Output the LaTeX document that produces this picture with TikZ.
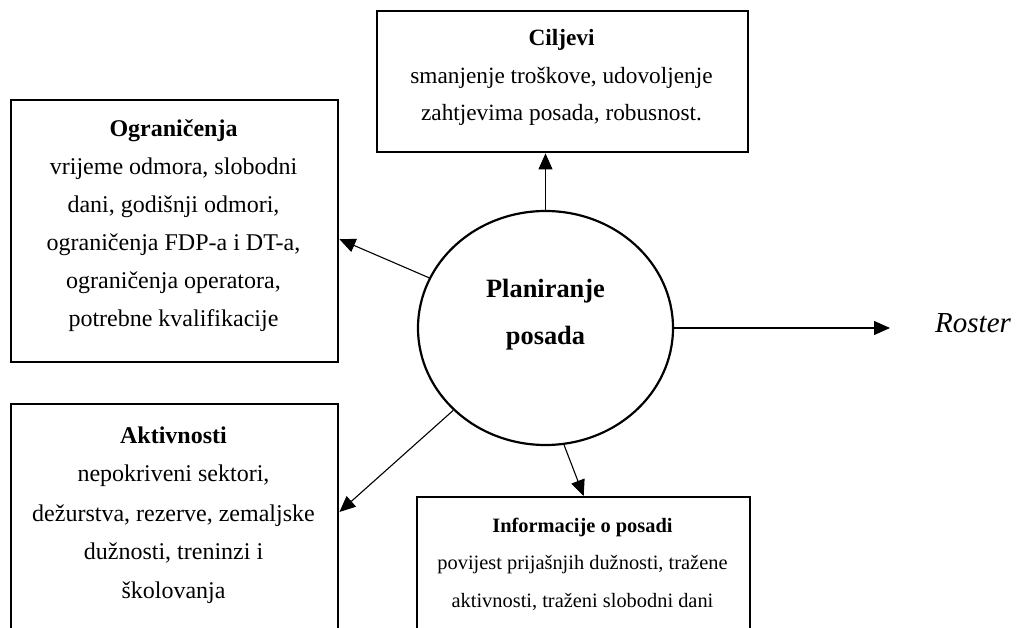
\documentclass[tikz,border=0pt]{standalone}
\usepackage{fontspec}
\setmainfont{Liberation Serif}
\usetikzlibrary{arrows.meta,shapes.geometric,calc}
\begin{document}
\begin{tikzpicture}[x=1pt,y=-1pt,
  box/.style={draw, line width=2.4pt, rectangle, inner sep=0pt, anchor=north west},
  boxtext/.style={inner sep=0pt, anchor=base, font=\fontsize{24}{38}\selectfont},
  circ/.style={draw, ellipse, line width=2.2pt, inner sep=0pt},
  arr/.style={line width=1.1pt, -{Triangle[length=16pt,width=14pt]}}]
\useasboundingbox (0,0) rectangle (1021,628);
\clip (0,0) rectangle (1021,628);

% boxes
\node[box, minimum width=371pt, minimum height=141pt] (cil) at (376,10) {};
\node[box, minimum width=327pt, minimum height=262pt] (ogr) at (10,99) {};
\node[box, minimum width=327pt, minimum height=300pt] (akt) at (10,403) {};
\node[box, minimum width=333pt, minimum height=200pt] (inf) at (416,496) {};

% box texts
\node[boxtext, font=\fontsize{23.3}{37.5}\selectfont] (ciltext) at (561.5,46) {\parbox[t]{460pt}{\centering\textbf{Ciljevi}\\smanjenje troškove, udovoljenje\\zahtjevima posada, robusnost.}};
\node[boxtext] (ogrtext) at (173.5,137) {\parbox[t]{400pt}{\centering\textbf{Ograničenja}\\vrijeme odmora, slobodni\\dani, godišnji odmori,\\ograničenja FDP-a i DT-a,\\ograničenja operatora,\\potrebne kvalifikacije}};
\node[boxtext, font=\fontsize{24}{39}\selectfont] (akttext) at (173.5,443) {\parbox[t]{400pt}{\centering\textbf{Aktivnosti}\\nepokriveni sektori,\\dežurstva, rezerve, zemaljske\\dužnosti, treninzi i\\školovanja}};
\node[boxtext, font=\fontsize{20.4}{37.5}\selectfont] (inftext) at (582.5,532) {\parbox[t]{460pt}{\centering\textbf{Informacije o posadi}\\povijest prijašnjih dužnosti, tražene\\aktivnosti, traženi slobodni dani}};

% central ellipse
\node[circ, minimum width=255pt, minimum height=234pt] (plan) at (545.5,328) {};
\node[inner sep=0pt, anchor=base, font=\fontsize{26.4}{47}\selectfont\bfseries] (plantext) at (545.5,298) {\parbox[t]{200pt}{\centering Planiranje\\posada}};

% output
\node[inner sep=0pt, anchor=base west, font=\fontsize{29}{34}\selectfont\itshape] (roster) at (935,333) {Roster};

% connectors
\draw[arr] (plan.north) -- (plan.north |- cil.south);
\draw[arr] (plan) -- ($(ogr.north east)!0.53!(ogr.south east)$);
\draw[arr] (plan) -- ($(akt.north east)+(0,109)$);
\draw[arr] (plan.-81) -- (inf.north);
\draw[arr] (plan.east) -- ($(plan.east -| roster.west)+(-45,0)$);
\end{tikzpicture}
\end{document}
